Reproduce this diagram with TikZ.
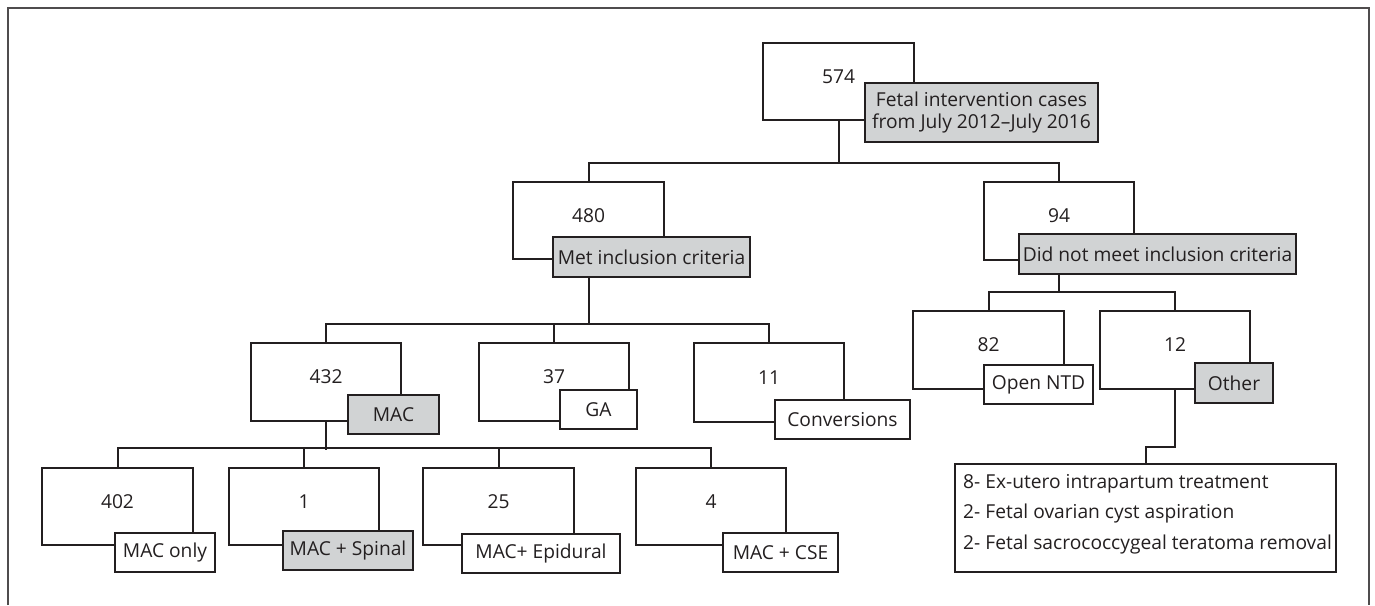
\documentclass[tikz,border=0pt]{standalone}
\usepackage{fontspec}
\setmainfont{Open Sans}
\definecolor{ln}{HTML}{231F20}
\definecolor{gr}{HTML}{D1D3D4}
\tikzset{
  bigbox/.style={draw=ln, line width=2pt, minimum width=150pt, minimum height=77pt, inner sep=0pt},
  lab/.style={draw=ln, line width=2pt, fill=white, inner sep=0pt, text=ln},
  glab/.style={lab, fill=gr},
  num/.style={text=ln, inner sep=0pt},
  conn/.style={draw=ln, line width=2pt},
  frame/.style={draw=ln!80, line width=2pt}
}
\begin{document}
\begin{tikzpicture}[x=1pt, y=-1pt, font=\fontsize{19.2}{22.7}\selectfont]
\useasboundingbox (0,0) rectangle (1375,605);
\draw[frame] (8,605) -- (8,7.5) -- (1369,7.5) -- (1369,605);

% big boxes
\node[bigbox, minimum width=151pt] (b574) at (838.5,81.5) {};
\node[bigbox, minimum width=151pt] (b480) at (588.5,220.5) {};
\node[bigbox, minimum height=78pt] (b94) at (1059,221) {};
\node[bigbox, minimum height=78pt] (b432) at (326,382) {};
\node[bigbox, minimum height=78pt] (b37) at (554,382) {};
\node[bigbox, minimum height=79pt] (b11) at (769,382.5) {};
\node[bigbox, minimum width=151pt, minimum height=78pt] (b82) at (988.5,350) {};
\node[bigbox, minimum height=78pt] (b12) at (1175,350) {};
\node[bigbox, minimum width=151pt] (b402) at (117.5,506.5) {};
\node[bigbox] (b1) at (304,506.5) {};
\node[bigbox, minimum width=151pt] (b25) at (498.5,506.5) {};
\node[bigbox] (b4) at (711,506.5) {};

% numbers
\path (b574.center) ++(0,-5) node[num] (n574) {574};
\path (b480.center) ++(0,-5) node[num] (n480) {480};
\path (b94.center) ++(0,-5) node[num] (n94) {94};
\path (b432.center) ++(0,-5) node[num] (n432) {432};
\path (b37.center) ++(0,-5) node[num] (n37) {37};
\path (b11.center) ++(0,-5) node[num] (n11) {11};
\path (b82.center) ++(0,-5) node[num] (n82) {82};
\path (b12.center) ++(0,-5) node[num] (n12) {12};
\path (b402.center) ++(0,-5) node[num] (n402) {402};
\path (b1.center) ++(0,-5) node[num] (n1) {1};
\path (b25.center) ++(0,-5) node[num] (n25) {25};
\path (b4.center) ++(0,-5) node[num] (n4) {4};

% connectors
\draw[conn] (b574.south) -- (b574.south |- 0,164);
\draw[conn] (b480.north) -- ++(0,-18) -| (b94.north);
\draw[conn] (b480.center |- 0,277) -- (b480.center |- 0,325);
\draw[conn] (b432.north) -- ++(0,-18) -| (b11.north);
\draw[conn] (b37.north) -- ++(0,-18);
\draw[conn] (b432.south) -- ++(0,28);
\draw[conn] (b402.north) -- ++(0,-19) -| (b4.north);
\draw[conn] (b1.north) -- ++(0,-19);
\draw[conn] (b25.north) -- ++(0,-19);
\draw[conn] (b94.center |- 0,274) -- (b94.center |- 0,293);
\draw[conn] (b82.north) -- ++(0,-18) -| (b12.north);

% labels
\node[glab, minimum width=233pt, minimum height=59pt, align=center] (l574) at (981.5,112.5) {Fetal intervention cases\\from July 2012--July 2016};
\node[glab, minimum width=197pt, minimum height=40pt] (l480) at (651.5,257) {Met inclusion criteria};
\node[glab, minimum width=277pt, minimum height=40pt] (l94) at (1157.5,254) {Did not meet inclusion criteria};
\node[glab, minimum width=91pt, minimum height=39pt] (lmac) at (393.5,414.5) {MAC};
\node[lab, minimum width=77pt, minimum height=39pt] (lga) at (598.5,409.5) {GA};
\node[lab, minimum width=135pt, minimum height=39pt] (lconv) at (842.5,419.5) {Conversions};
\node[lab, minimum width=109pt, minimum height=39pt] (lntd) at (1038.5,384.5) {Open NTD};
\node[glab, minimum width=78pt, minimum height=40pt] (loth) at (1234,383) {Other};
\node[lab, minimum width=100pt, minimum height=39pt] (lonly) at (165,552.5) {MAC only};
\node[glab, minimum width=130pt, minimum height=39pt] (lspin) at (348,550.5) {MAC + Spinal};
\node[lab, minimum width=158pt, minimum height=39pt] (lepi) at (541,553.5) {MAC+ Epidural};
\node[lab, minimum width=115pt, minimum height=39pt] (lcse) at (780.5,552.5) {MAC + CSE};

% list box
\node[lab, minimum width=381pt, minimum height=108pt] (list) at (1145.5,518) {};
\node[num, anchor=west, align=left, font=\fontsize{19.2}{30.5}\selectfont] (listtext) at (963,514) {8- Ex-utero intrapartum treatment\\2- Fetal ovarian cyst aspiration\\2- Fetal sacrococcygeal teratoma removal};
\draw[conn] (b12.south) -- ++(0,57) -| (list.north);
\end{tikzpicture}
\end{document}
